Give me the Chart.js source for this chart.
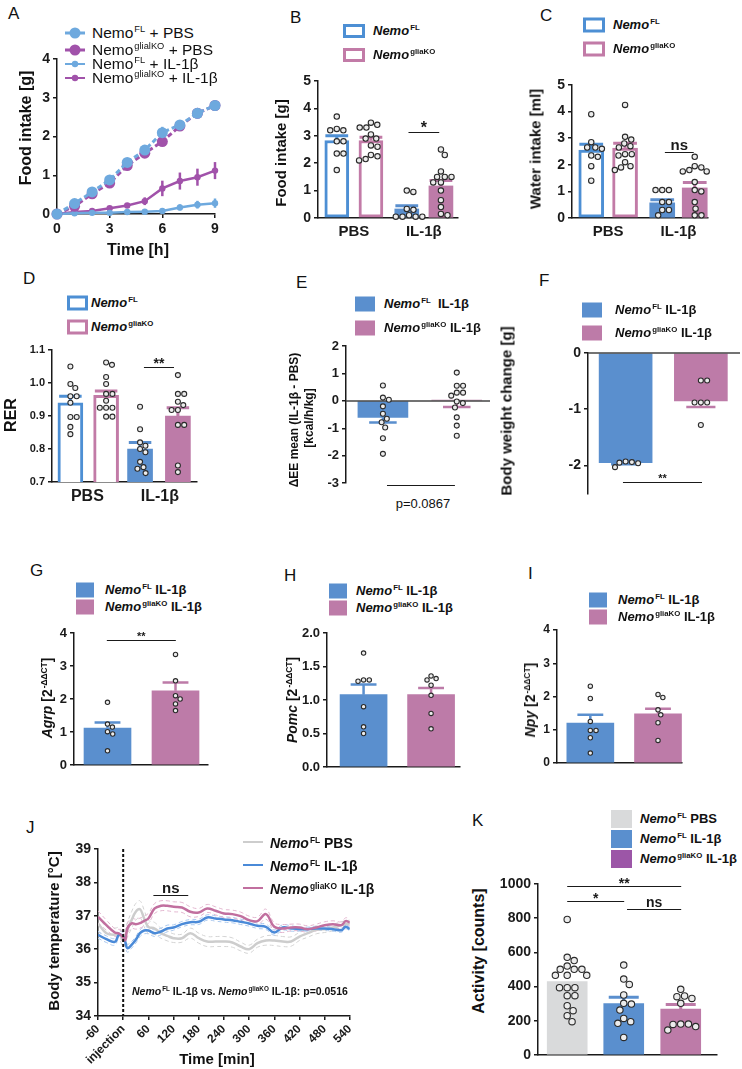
<!DOCTYPE html>
<html>
<head>
<meta charset="UTF-8">
<title>Nemo gliaKO IL-1b figure</title>
<script src="https://cdn.jsdelivr.net/npm/chart.js@4.4.1/dist/chart.umd.min.js"></script>
<style>
    html, body { margin: 0; padding: 0; overflow: hidden; background: #fff; }
    #fig { position: relative; width: 742px; height: 1069px; overflow: hidden;
           font-family: 'Liberation Sans', Arial, sans-serif; color: #111; }
    #fig div { position: absolute; white-space: nowrap; }
    .let { font-size: 17px; line-height: 17px; }
    .rot { transform: translate(-50%, -50%) rotate(-90deg); font-weight: bold; line-height: 1; }
    .ctr { transform: translate(-50%, -50%); line-height: 1; }
    .lg { font-weight: bold; font-size: 13px; line-height: 14px; transform: translateY(-50%); }
    .sw { width: 21px; height: 14px; box-sizing: border-box; transform: translateY(-50%); }
    sup { font-size: 0.6em; line-height: 0; vertical-align: 0.6em; margin-left: 1px; }
    canvas { position: absolute; }
</style>
</head>
<body>
<div id="fig"></div>
<script>
// ---------- data ----------
// A: cumulative food intake [g]
const hoursA = [0, 1, 2, 3, 4, 5, 6, 7, 8, 9];
const aFlPbs = [0, 0.27, 0.57, 0.88, 1.33, 1.65, 2.1, 2.3, 2.6, 2.8];
const aFlPbsSem = [0, 0.08, 0.07, 0.08, 0.1, 0.1, 0.15, 0.12, 0.13, 0.13];
const aKoPbs = [0, 0.2, 0.52, 0.8, 1.25, 1.57, 1.87, 2.27, 2.6, 2.8];
const aKoPbsSem = [0, 0.06, 0.06, 0.07, 0.08, 0.08, 0.1, 0.1, 0.1, 0.1];
const aFlIl = [0, 0.02, 0.03, 0.03, 0.05, 0.06, 0.08, 0.17, 0.24, 0.28];
const aFlIlSem = [0, 0.02, 0.02, 0.02, 0.03, 0.03, 0.04, 0.08, 0.1, 0.12];
const aKoIl = [0, 0.05, 0.08, 0.15, 0.22, 0.33, 0.66, 0.85, 0.95, 1.12];
const aKoIlSem = [0, 0.03, 0.03, 0.05, 0.06, 0.1, 0.2, 0.22, 0.22, 0.22];
const aXTicks = [0, 3, 6, 9];
const aYTicks = [0, 1, 2, 3, 4];

const groupsBCD = ['PBS', 'IL-1β'];

// B: food intake, bars = FL PBS, KO PBS, FL IL-1b, KO IL-1b
const bMean = [2.83, 2.83, 0.33, 1.17];
const bSem = [0.17, 0.12, 0.12, 0.2];
const bDots = [
    [3.7, 3.25, 3.2, 3.2, 2.8, 2.8, 2.35, 2.35, 1.75],
    [3.48, 3.4, 3.3, 3.3, 3.05, 2.9, 2.9, 2.65, 2.6, 2.3, 2.25, 2.15, 2.1],
    [1.0, 0.95, 0.33, 0.3, 0.1, 0.05, 0.05, 0.05, 0.05],
    [2.5, 2.3, 1.7, 1.5, 1.5, 1.5, 1.3, 1.3, 1.0, 0.65, 0.4, 0.15, 0.1]
];
const bYTicks = [0, 1, 2, 3, 4, 5];

// C: water intake
const cMean = [2.55, 2.63, 0.57, 1.13];
const cSem = [0.22, 0.18, 0.12, 0.2];
const cDots = [
    [3.9, 2.85, 2.65, 2.65, 2.6, 2.35, 2.3, 1.95, 1.4],
    [4.25, 3.05, 2.95, 2.8, 2.7, 2.65, 2.4, 2.4, 2.35, 2.1, 1.95, 1.9, 1.8],
    [1.05, 1.05, 1.05, 0.6, 0.6, 0.3, 0.3, 0.1],
    [2.3, 1.95, 1.9, 1.8, 1.75, 1.75, 1.35, 1.05, 1.0, 0.6, 0.35, 0.1, 0.1]
];
const cYTicks = [0, 1, 2, 3, 4, 5];

// D: RER
const dMean = [0.94, 0.963, 0.80, 0.90];
const dSem = [0.02, 0.013, 0.02, 0.025];
const dDots = [
    [1.05, 0.997, 0.985, 0.96, 0.96, 0.94, 0.897, 0.897, 0.867, 0.845],
    [1.062, 1.055, 1.018, 0.997, 0.967, 0.967, 0.946, 0.925, 0.925, 0.925, 0.898, 0.898],
    [0.928, 0.86, 0.82, 0.81, 0.80, 0.79, 0.761, 0.745, 0.74, 0.727],
    [1.024, 0.967, 0.967, 0.943, 0.933, 0.918, 0.918, 0.873, 0.873, 0.75, 0.73]
];
const dYTicks = [0.7, 0.8, 0.9, 1.0, 1.1];

// E: delta EE
const eMean = [-0.6, 0.03];
const eSem = [0.19, 0.25];
const eDots = [
    [0.56, 0.12, 0.04, -0.2, -0.47, -0.65, -0.78, -0.97, -1.36, -1.93],
    [1.03, 0.55, 0.55, 0.3, 0.3, 0.19, -0.02, -0.08, -0.24, -0.6, -0.9, -1.27]
];
const eYTicks = [-3, -2, -1, 0, 1, 2];

// F: body weight change
const fMean = [-1.95, -0.85];
const fSem = [0.03, 0.11];
const fDots = [
    [-1.93, -1.94, -1.95, -1.96, -2.03],
    [-0.49, -0.49, -0.88, -0.88, -0.88, -1.28]
];
const fYTicks = [-2, -1, 0];

// G, H, I: qPCR
const gMean = [1.12, 2.25];
const gSem = [0.17, 0.25];
const gDots = [[1.9, 1.24, 1.15, 1.01, 0.94, 0.43], [3.35, 2.55, 2.1, 2.0, 1.85, 1.65]];
const gYTicks = [0, 1, 2, 3, 4];

const hMean = [1.08, 1.08];
const hSem = [0.15, 0.1];
const hDots = [[1.7, 1.3, 1.3, 1.28, 0.9, 0.6, 0.5], [1.36, 1.32, 1.3, 1.22, 1.07, 0.8, 0.57]];
const hYTicks = [0, 0.5, 1.0, 1.5, 2.0];

const iMean = [1.2, 1.48];
const iSem = [0.25, 0.15];
const iDots = [[2.31, 1.94, 1.25, 0.98, 0.98, 0.76, 0.3], [2.06, 1.97, 1.6, 1.45, 1.21, 0.68]];
const iYTicks = [0, 1, 2, 3, 4];

// J: body temperature
const jTime = [-60, -40, -20, -10, 0, 5, 10, 20, 30, 40, 50, 60, 75, 90, 105, 120, 140, 160, 180, 200,
    220, 240, 260, 280, 300, 320, 340, 360, 380, 400, 420, 440, 460, 480, 500, 520, 530, 540];
const jFlPbs = [36.77, 36.48, 36.43, 36.47, 36.28, 36.4, 36.58, 36.87, 37.12, 37.2, 36.92, 36.67, 36.62, 36.48,
    36.4, 36.33, 36.33, 36.48, 36.33, 36.23, 36.23, 36.23, 36.2, 36.08, 36.0, 36.18, 36.26, 36.26, 36.23,
    36.23, 36.38, 36.48, 36.58, 36.6, 36.65, 36.72, 36.75, 36.77];
const jFlPbsSem = [0.22, 0.2, 0.2, 0.18, 0.2, 0.2, 0.22, 0.25, 0.25, 0.25, 0.25, 0.2, 0.18, 0.15, 0.15, 0.13,
    0.12, 0.15, 0.15, 0.15, 0.15, 0.15, 0.14, 0.13, 0.12, 0.12, 0.14, 0.15, 0.15, 0.14, 0.12, 0.12, 0.12,
    0.1, 0.1, 0.1, 0.1, 0.1];
const jFlIl = [36.43, 36.3, 36.22, 36.43, 36.38, 36.22, 36.03, 36.13, 36.28, 36.48, 36.56, 36.56, 36.48, 36.53,
    36.62, 36.65, 36.75, 36.81, 36.82, 36.95, 36.92, 36.89, 36.87, 36.82, 36.77, 36.7, 36.67, 36.5, 36.65,
    36.62, 36.6, 36.6, 36.62, 36.62, 36.6, 36.57, 36.67, 36.6];
const jFlIlSem = [0.1, 0.1, 0.1, 0.1, 0.12, 0.12, 0.12, 0.1, 0.1, 0.1, 0.1, 0.1, 0.1, 0.1, 0.1, 0.08, 0.08,
    0.08, 0.08, 0.08, 0.08, 0.08, 0.08, 0.08, 0.08, 0.08, 0.08, 0.08, 0.08, 0.08, 0.06, 0.06, 0.06, 0.06,
    0.06, 0.06, 0.06, 0.06];
const jKoIl = [36.97, 36.72, 36.5, 36.47, 36.35, 36.27, 36.62, 36.77, 36.75, 36.78, 36.85, 36.92, 37.22, 37.3,
    37.3, 37.27, 37.25, 37.12, 37.1, 37.22, 37.15, 37.07, 37.05, 36.99, 36.87, 36.84, 37.05, 36.67, 36.62,
    36.65, 36.65, 36.6, 36.65, 36.72, 36.75, 36.72, 36.84, 36.8];
const jKoIlSem = [0.18, 0.15, 0.12, 0.12, 0.15, 0.15, 0.15, 0.15, 0.15, 0.15, 0.15, 0.15, 0.15, 0.15, 0.15,
    0.15, 0.15, 0.15, 0.12, 0.12, 0.12, 0.12, 0.12, 0.12, 0.12, 0.12, 0.15, 0.12, 0.12, 0.1, 0.1, 0.1, 0.1,
    0.1, 0.1, 0.1, 0.1, 0.1];
const jXTicks = [-60, 0, 60, 120, 180, 240, 300, 360, 420, 480, 540];
const jXLabels = ['-60', 'injection', '60', '120', '180', '240', '300', '360', '420', '480', '540'];
const jYTicks = [34, 35, 36, 37, 38, 39];

// K: activity, bars = FL PBS, FL IL-1b, KO IL-1b
const kMean = [430, 300, 268];
const kSem = [0, 38, 28];
const kDots = [
    [793, 571, 552, 520, 501, 501, 501, 466, 466, 466, 394, 394, 394, 347, 347, 288, 259, 230, 195],
    [526, 444, 413, 351, 302, 298, 263, 214, 195, 185, 103],
    [384, 345, 341, 331, 302, 181, 181, 179, 166, 146]
];
const kYTicks = [0, 200, 400, 600, 800, 1000];

// ---------- look ----------
const FONT = "'Liberation Sans', Arial, sans-serif";
const INK = '#1a1a1a';
const BLUE = '#5a8fce', PINK = '#bd7ba8';
const OBLUE = '#4d8fd4', OPINK = '#c27ba7';
const ABLUE = '#6ea9de', APURP = '#a152aa';
const KGRAY = '#d9dadb', KPURP = '#9c56a7';
const JGRAY = '#cdcdcd', JBLUE = '#4a8ad8', JPINK = '#c16f9f';

Chart.defaults.font.family = FONT;
Chart.defaults.font.weight = 'bold';
Chart.defaults.color = INK;

const fig = document.getElementById('fig');
const PAD = { top: 12, right: 10, bottom: 10, left: 0 };
const YW = 40;

function put(cls, x, y, html, extra) {
    const d = document.createElement('div');
    d.className = cls;
    d.style.left = x + 'px';
    d.style.top = y + 'px';
    if (extra) d.style.cssText += extra;
    d.innerHTML = html;
    fig.appendChild(d);
}

function makeCanvas(rect, xh) {
    const [L, T, R, B] = rect;
    const c = document.createElement('canvas');
    const w = R - L + YW + PAD.right, h = B - T + PAD.top + PAD.bottom + xh;
    c.width = w; c.height = h;
    c.style.left = (L - YW) + 'px';
    c.style.top = (T - PAD.top) + 'px';
    c.style.width = w + 'px';
    c.style.height = h + 'px';
    fig.appendChild(c);
    return c;
}

function yAxis(min, max, ticks, size, fmt) {
    return {
        min: min, max: max,
        grid: { drawOnChartArea: false, drawTicks: true, tickLength: 4, color: INK, lineWidth: 1.5 },
        border: { display: true, color: INK, width: 1.5 },
        ticks: { font: { size: size, weight: 'bold' }, color: INK, padding: 3, callback: fmt || (v => v) },
        afterBuildTicks: s => { s.ticks = ticks.map(v => ({ value: v })); },
        afterFit: s => { s.width = YW; }
    };
}

function xAxis(min, max, xh, o) {
    o = o || {};
    return {
        type: 'linear', min: min, max: max, offset: false, display: xh > 0,
        grid: { offset: false, drawOnChartArea: false, drawTicks: !!o.marks, tickLength: 4, color: INK, lineWidth: 1.5 },
        border: { display: true, color: INK, width: 1.5 },
        ticks: {
            display: !!o.labels, font: { size: o.size || 15, weight: 'bold' }, color: INK, padding: o.pad || 3,
            autoSkip: false, minRotation: o.rot || 0, maxRotation: o.rot || 0,
            callback: (v, i) => o.labels ? o.labels[i] : ''
        },
        afterBuildTicks: s => { s.ticks = (o.at || [min]).map(v => ({ value: v })); },
        afterFit: s => { s.height = xh; }
    };
}

// simple beeswarm in pixel space: returns x offsets
function swarm(ys, d) {
    const idx = ys.map((_, i) => i).sort((a, b) => ys[a] - ys[b]);
    const xs = new Array(ys.length), done = [];
    idx.forEach(i => {
        const iv = [];
        done.forEach(j => {
            const dy = Math.abs(ys[j] - ys[i]);
            if (dy < d) {
                const w = Math.sqrt(d * d - dy * dy);
                iv.push([xs[j] - w, xs[j] + w]);
            }
        });
        const cands = [0];
        iv.forEach(v => cands.push(v[0], v[1]));
        cands.sort((a, b) => Math.abs(a) - Math.abs(b) || b - a);
        xs[i] = cands.find(c => iv.every(v => c <= v[0] + 1e-6 || c >= v[1] - 1e-6));
        done.push(i);
    });
    return xs;
}

function drawSig(ctx, x, y, s) {
    const x1 = x.getPixelForValue(s.x1), x2 = x.getPixelForValue(s.x2);
    const py = Math.round(y.getPixelForValue(s.y)) + 0.5;
    ctx.setLineDash([]);
    ctx.strokeStyle = INK; ctx.lineWidth = 1;
    ctx.beginPath(); ctx.moveTo(x1, py); ctx.lineTo(x2, py); ctx.stroke();
    if (s.t) {
        ctx.fillStyle = INK;
        ctx.font = 'bold ' + (s.size || 14) + 'px ' + FONT;
        ctx.textAlign = 'center';
        ctx.textBaseline = 'alphabetic';
        ctx.fillText(s.t, (x1 + x2) / 2, py - (s.gap === undefined ? 3 : s.gap));
    }
}

function barPanel(p) {
    const xh = p.groups ? 24 : (p.noX ? 0 : 2);
    const c = makeCanvas(p.rect, xh);
    const deco = {
        id: 'deco',
        afterDatasetsDraw(chart) {
            const { ctx, chartArea: ca, scales: { x, y } } = chart;
            ctx.save();
            if (p.zero) {
                const y0 = y.getPixelForValue(0);
                ctx.strokeStyle = '#444'; ctx.lineWidth = 1.5;
                ctx.beginPath(); ctx.moveTo(ca.left, y0); ctx.lineTo(ca.right, y0); ctx.stroke();
            }
            // error bars
            p.mean.forEach((m, i) => {
                if (!p.sem[i]) return;
                const cx = x.getPixelForValue(p.pos[i]);
                const dir = p.dir ? p.dir[i] : (m < 0 ? -1 : 1);
                const y0 = y.getPixelForValue(m), y1 = y.getPixelForValue(m + dir * p.sem[i]);
                const hw = p.thick * (p.cap || 0.55) / 2;
                ctx.strokeStyle = p.color[i]; ctx.lineWidth = p.errW || 2.5;
                ctx.beginPath();
                ctx.moveTo(cx, y0); ctx.lineTo(cx, y1);
                ctx.moveTo(cx - hw, y1); ctx.lineTo(cx + hw, y1);
                ctx.stroke();
            });
            // individual animals
            const r = p.r || 2.6;
            ctx.lineWidth = 1.1; ctx.strokeStyle = '#2a2a2a'; ctx.fillStyle = '#ececec';
            p.dots.forEach((vals, i) => {
                const cx = x.getPixelForValue(p.pos[i]);
                const ys = vals.map(v => y.getPixelForValue(v));
                const xs = swarm(ys, 2 * r + 1.3);
                ys.forEach((py, k) => {
                    ctx.beginPath(); ctx.arc(cx + xs[k], py, r, 0, Math.PI * 2);
                    ctx.fill(); ctx.stroke();
                });
            });
            (p.sig || []).forEach(s => drawSig(ctx, x, y, s));
            ctx.restore();
        }
    };
    const outline = p.outline || [];
    return new Chart(c, {
        type: 'bar',
        data: {
            datasets: [{
                data: p.pos.map((v, i) => ({ x: v, y: p.mean[i] })),
                backgroundColor: p.color.map((col, i) => outline[i] ? '#fff' : col),
                borderColor: p.color,
                borderWidth: p.color.map((col, i) => outline[i] ? 3 : 0),
                borderSkipped: false,
                barThickness: p.thick
            }]
        },
        options: {
            responsive: false, animation: false, events: [],
            layout: { padding: PAD },
            plugins: { legend: { display: false }, tooltip: { enabled: false } },
            scales: {
                x: xAxis(0, p.xMax, xh, p.groups ? { labels: groupsBCD, at: p.groups, size: p.gSize || 15, pad: 5 } : {}),
                y: yAxis(p.yMin, p.yMax, p.yTicks, p.tSize || 14, p.fmt)
            }
        },
        plugins: [deco]
    });
}

const fix1 = v => v.toFixed(1);

// ---------- panel A ----------
(function () {
    const rect = [57, 59, 215, 214];
    const c = makeCanvas(rect, 22);
    const series = [
        { y: aFlPbs, sem: aFlPbsSem, col: ABLUE, dash: [5, 3], r: 5.5, w: 3 },
        { y: aKoPbs, sem: aKoPbsSem, col: APURP, dash: [5, 3], r: 5.5, w: 3 },
        { y: aFlIl, sem: aFlIlSem, col: ABLUE, dash: [], r: 3.2, w: 2.5 },
        { y: aKoIl, sem: aKoIlSem, col: APURP, dash: [], r: 3.2, w: 2.5 }
    ];
    const errs = {
        id: 'errs',
        beforeDatasetsDraw(chart) {
            const { ctx, scales: { x, y } } = chart;
            ctx.save();
            series.forEach(s => {
                ctx.strokeStyle = s.col; ctx.lineWidth = 2.5;
                hoursA.forEach((h, i) => {
                    if (!s.sem[i]) return;
                    const px = x.getPixelForValue(h);
                    ctx.beginPath();
                    ctx.moveTo(px, y.getPixelForValue(s.y[i] - s.sem[i]));
                    ctx.lineTo(px, y.getPixelForValue(s.y[i] + s.sem[i]));
                    ctx.stroke();
                });
            });
            ctx.restore();
        }
    };
    new Chart(c, {
        type: 'line',
        data: {
            datasets: series.map(s => ({
                data: hoursA.map((h, i) => ({ x: h, y: s.y[i] })),
                borderColor: s.col, backgroundColor: s.col, borderDash: s.dash, borderWidth: s.w,
                pointRadius: s.r, pointBorderWidth: 0, tension: 0, clip: false
            }))
        },
        options: {
            responsive: false, animation: false, events: [],
            layout: { padding: PAD },
            plugins: { legend: { display: false }, tooltip: { enabled: false } },
            scales: {
                x: xAxis(0, 9, 22, { labels: aXTicks.map(String), at: aXTicks, size: 14, marks: true }),
                y: yAxis(0, 4, aYTicks, 14)
            }
        },
        plugins: [errs]
    });
})();

// ---------- bar panels ----------
barPanel({ rect: [318, 81, 458, 218], xMax: 4.1, pos: [0.55, 1.55, 2.6, 3.6], groups: [1.05, 3.1],
    mean: bMean, sem: bSem, dots: bDots, color: [OBLUE, OPINK, BLUE, PINK], outline: [1, 1, 0, 0],
    thick: 24, cap: 0.95, errW: 3, yMin: 0, yMax: 5, yTicks: bYTicks, r: 2.7,
    sig: [{ x1: 2.65, x2: 3.55, y: 3.14, t: '*', size: 16, gap: 0 }] });

barPanel({ rect: [572, 85, 708, 218], xMax: 4.1, pos: [0.58, 1.6, 2.72, 3.7], groups: [1.09, 3.21],
    mean: cMean, sem: cSem, dots: cDots, color: [OBLUE, OPINK, BLUE, PINK], outline: [1, 1, 0, 0],
    thick: 25, cap: 0.95, errW: 3, yMin: 0, yMax: 5, yTicks: cYTicks, r: 2.7,
    sig: [{ x1: 2.8, x2: 3.67, y: 2.48, t: 'ns', size: 15 }] });

barPanel({ rect: [52, 350, 197, 482], xMax: 4.1, pos: [0.52, 1.53, 2.49, 3.56], groups: [1.0, 3.05],
    mean: dMean, sem: dSem, dots: dDots, color: [OBLUE, OPINK, BLUE, PINK], outline: [1, 1, 0, 0],
    thick: 25, cap: 0.9, errW: 3, yMin: 0.7, yMax: 1.1, yTicks: dYTicks, tSize: 11, fmt: fix1, r: 2.5,
    gSize: 16, sig: [{ x1: 2.6, x2: 3.45, y: 1.048, t: '**', size: 14, gap: 0 }] });

barPanel({ rect: [346, 346, 490, 484], xMax: 3.9, pos: [1.0, 3.0], noX: true, zero: true,
    mean: eMean, sem: eSem, dir: [-1, -1], dots: eDots, color: [BLUE, PINK], thick: 50, cap: 0.55,
    yMin: -3, yMax: 2, yTicks: eYTicks, tSize: 13, r: 2.5,
    sig: [{ x1: 1.11, x2: 2.95, y: -3.05 }] });

barPanel({ rect: [588, 353, 740, 495], xMax: 4.0, pos: [0.99, 2.97], noX: true, zero: true,
    mean: fMean, sem: fSem, dots: fDots, color: [BLUE, PINK], thick: 53, cap: 0.55,
    yMin: -2.5, yMax: 0, yTicks: fYTicks, tSize: 14, r: 2.5,
    sig: [{ x1: 0.92, x2: 3.0, y: -2.3, t: '**', size: 11, gap: 1 }] });

barPanel({ rect: [74, 633, 208, 765], xMax: 4, pos: [1.0, 3.03], mean: gMean, sem: gSem, dots: gDots,
    color: [BLUE, PINK], thick: 47, cap: 0.55, yMin: 0, yMax: 4, yTicks: gYTicks, tSize: 13, r: 2.2,
    sig: [{ x1: 0.98, x2: 3.04, y: 3.8, t: '**', size: 11, gap: 1 }] });

barPanel({ rect: [327, 633, 460, 767], xMax: 4, pos: [1.1, 3.13], mean: hMean, sem: hSem, dots: hDots,
    color: [BLUE, PINK], thick: 47, cap: 0.55, yMin: 0, yMax: 2, yTicks: hYTicks, tSize: 13, fmt: fix1, r: 2.2 });

barPanel({ rect: [557, 630, 682, 763], xMax: 3.75, pos: [1.0, 3.03], mean: iMean, sem: iSem, dots: iDots,
    color: [BLUE, PINK], thick: 47, cap: 0.55, yMin: 0, yMax: 4, yTicks: iYTicks, tSize: 12, r: 2.2 });

barPanel({ rect: [538, 884, 717, 1055], xMax: 3.8, pos: [0.62, 1.82, 3.03], mean: kMean, sem: kSem, dots: kDots,
    color: [KGRAY, BLUE, PINK], thick: 40, cap: 0.75, errW: 3, yMin: 0, yMax: 1000, yTicks: kYTicks, tSize: 14, r: 3.2,
    sig: [{ x1: 0.62, x2: 3.04, y: 990, t: '**', size: 14, gap: -1 },
          { x1: 0.62, x2: 1.83, y: 900, t: '*', size: 14, gap: -1 },
          { x1: 1.89, x2: 3.04, y: 854, t: 'ns', size: 14 }] });

// ---------- panel J ----------
(function () {
    const rect = [98, 849, 352, 1016];
    const c = makeCanvas(rect, 54);
    const series = [
        { y: jKoIl, sem: jKoIlSem, col: JPINK, semCol: '#e3b7d0' },
        { y: jFlIl, sem: jFlIlSem, col: JBLUE, semCol: '#aac8ee' },
        { y: jFlPbs, sem: jFlPbsSem, col: JGRAY, semCol: '#d4d4d4' }
    ];
    const ds = [];
    series.forEach(s => ds.push({
        data: jTime.map((t, i) => ({ x: t, y: s.y[i] })),
        borderColor: s.col, borderWidth: 2.5, pointRadius: 0, tension: 0.4
    }));
    series.forEach(s => [-1, 1].forEach(k => ds.push({
        data: jTime.map((t, i) => ({ x: t, y: s.y[i] + k * s.sem[i] })),
        borderColor: s.semCol, borderWidth: 1, borderDash: [4, 3], pointRadius: 0, tension: 0.4
    })));
    const deco = {
        id: 'jdeco',
        afterDatasetsDraw(chart) {
            const { ctx, chartArea: ca, scales: { x, y } } = chart;
            ctx.save();
            const px = x.getPixelForValue(0);
            ctx.strokeStyle = '#111'; ctx.lineWidth = 2; ctx.setLineDash([3, 2]);
            ctx.beginPath(); ctx.moveTo(px, ca.top); ctx.lineTo(px, ca.bottom); ctx.stroke();
            drawSig(ctx, x, y, { x1: 72, x2: 155, y: 37.62, t: 'ns', size: 15, gap: 3 });
            ctx.restore();
        }
    };
    new Chart(c, {
        type: 'line',
        data: { datasets: ds },
        options: {
            responsive: false, animation: false, events: [],
            layout: { padding: PAD },
            plugins: { legend: { display: false }, tooltip: { enabled: false } },
            scales: {
                x: xAxis(-60, 540, 54, { labels: jXLabels, at: jXTicks, size: 12, rot: 45, marks: true, pad: 2 }),
                y: yAxis(34, 39, jYTicks, 14)
            }
        },
        plugins: [deco]
    });
})();

// ---------- text ----------
const NFL = '<i>Nemo</i><sup>FL</sup>';
const NKO = '<i>Nemo</i><sup>gliaKO</sup>';
const DCT = ' [2<sup>-ΔΔCT</sup>]';

[['A', 8, 5], ['B', 290, 9], ['C', 540, 7], ['D', 23, 270], ['E', 296, 274], ['F', 539, 272],
 ['G', 30, 562], ['H', 284, 567], ['I', 528, 565], ['J', 26, 819], ['K', 472, 812]]
    .forEach(l => put('let', l[1], l[2], l[0]));

// A legend
[[ABLUE, 3, 5.5, 'Nemo<sup>FL</sup> + PBS', 33], [APURP, 3, 5.5, 'Nemo<sup>glialKO</sup> + PBS', 50],
 [ABLUE, 2, 3.2, 'Nemo<sup>FL</sup> + IL-1β', 64], [APURP, 2, 3.2, 'Nemo<sup>glialKO</sup> + IL-1β', 78]]
    .forEach(r => {
        put('', 63, r[4] - 8, '<svg width="24" height="16"><line x1="2" y1="8" x2="22" y2="8" stroke="' + r[0] +
            '" stroke-width="' + r[1] + '"/><circle cx="12" cy="8" r="' + r[2] + '" fill="' + r[0] + '"/></svg>');
        put('lg', 92, r[4], r[3], 'font-weight:normal;font-size:15.5px;');
    });

function legend(bx, tx, rows, w, h, outline) {
    rows.forEach(r => {
        const sw = outline ? 'border:3px solid ' + r[0] + ';background:#fff;' : 'background:' + r[0] + ';';
        put('sw', bx, r[2], '', sw + 'width:' + w + 'px;height:' + h + 'px;');
        put('lg', tx, r[2], r[1]);
    });
}
legend(343, 373, [[OBLUE, NFL, 31], [OPINK, NKO, 55]], 22, 14, true);
legend(583, 613, [[OBLUE, NFL, 25], [OPINK, NKO, 49]], 22, 15, true);
legend(67, 91, [[OBLUE, NFL, 303], [OPINK, NKO, 327]], 21, 15, true);
legend(355, 384, [[BLUE, NFL + '&nbsp; IL-1β', 304], [PINK, NKO + ' IL-1β', 328]], 20, 15);
legend(582, 615, [[BLUE, NFL + ' IL-1β', 310], [PINK, NKO + ' IL-1β', 333]], 20, 15);
legend(76, 105, [[BLUE, NFL + ' IL-1β', 590], [PINK, NKO + ' IL-1β', 607]], 18, 15);
legend(329, 356, [[BLUE, NFL + ' IL-1β', 591], [PINK, NKO + ' IL-1β', 608]], 18, 15);
legend(589, 618, [[BLUE, NFL + ' IL-1β', 600], [PINK, NKO + ' IL-1β', 617]], 18, 15);
legend(611, 640, [[KGRAY, NFL + ' PBS', 819], [BLUE, NFL + ' IL-1β', 839], [KPURP, NKO + ' IL-1β', 859]], 21, 18);

// J legend
[[JGRAY, NFL + ' PBS', 843], [JBLUE, NFL + ' IL-1β', 866], [JPINK, NKO + ' IL-1β', 889]].forEach(r => {
    put('', 243, r[2] - 2, '', 'width:20px;height:0;border-top:2.5px solid ' + r[0] + ';');
    put('lg', 270, r[2], r[1], 'font-size:14px;');
});

// axis titles
put('rot', 26, 128, 'Food intake [g]', 'font-size:16px;');
put('ctr', 138, 250, 'Time [h]', 'font-size:16px;font-weight:bold;');
put('rot', 280, 153, 'Food intake [g]', 'font-size:15px;');
put('rot', 535, 149, 'Water intake [ml]', 'font-size:15px;');
put('rot', 11, 415, 'RER', 'font-size:16px;');
put('rot', 294, 420, 'ΔEE mean (IL-1β - PBS)', 'font-size:12px;');
put('rot', 309, 418, '[kcal/h/kg]', 'font-size:12px;');
put('ctr', 423, 503, 'p=0.0867', 'font-size:13px;');
put('rot', 506, 411, 'Body weight change [g]', 'font-size:15px;');
put('rot', 47, 698, '<i>Agrp</i>' + DCT, 'font-size:14px;');
put('rot', 292, 700, '<i>Pomc</i>' + DCT, 'font-size:14px;');
put('rot', 530, 700, '<i>Npy</i>' + DCT, 'font-size:14px;');
put('rot', 53, 931, 'Body temperature [°C]', 'font-size:15px;');
put('ctr', 217, 1058, 'Time [min]', 'font-size:15px;font-weight:bold;');
put('', 132, 985, NFL + ' IL-1β vs. ' + NKO + ' IL-1β: p=0.0516', 'font-size:10.5px;font-weight:bold;line-height:12px;');
put('rot', 479, 951, 'Activity [counts]', 'font-size:16px;');
</script>
</body>
</html>
